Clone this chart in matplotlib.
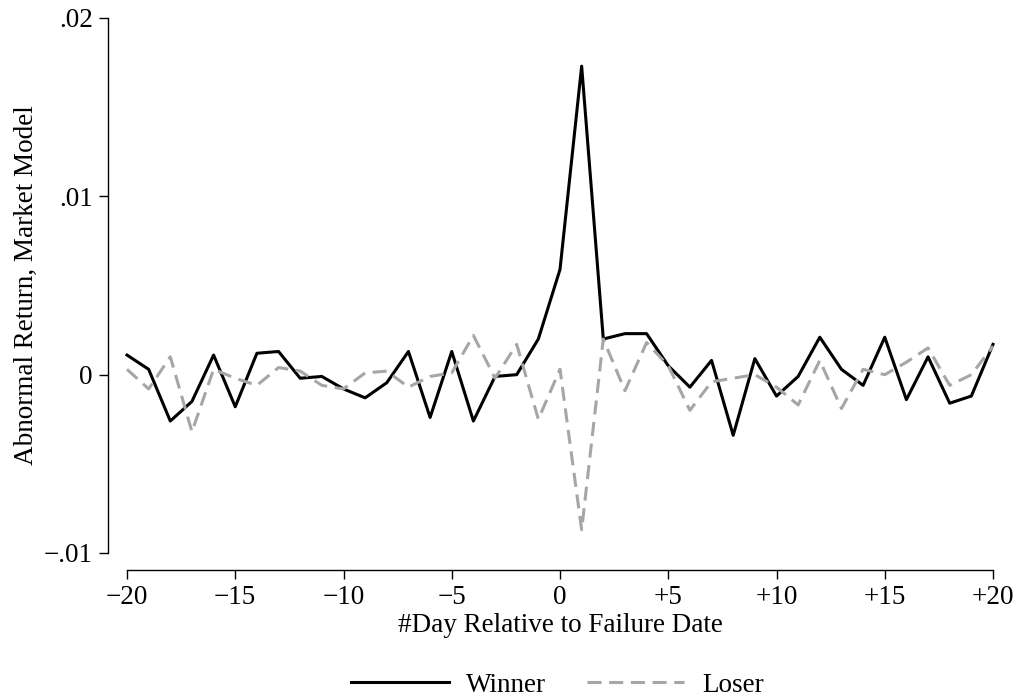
import matplotlib.pyplot as plt

# event days and average abnormal returns
days = list(range(-20, 21))

winner = [
    0.0011, 0.0003, -0.0026, -0.0015, 0.0011, -0.0018, 0.0012, 0.0013,
    -0.0002, -0.0001, -0.0008, -0.0013, -0.00045, 0.0013, -0.0024, 0.0013,
    -0.0026, -0.0001, 0.0000, 0.0020, 0.0059, 0.0173, 0.0020, 0.0023,
    0.0023, 0.0005, -0.0007, 0.0008, -0.0034, 0.0009, -0.0012, -0.0001,
    0.0021, 0.0003, -0.0006, 0.0021, -0.0014, 0.0010, -0.0016, -0.0012,
    0.0017,
]

loser = [
    0.0003, -0.0008, 0.0010, -0.0032, 0.0003, -0.0002, -0.0006, 0.0004,
    0.0002, -0.0006, -0.0008, 0.0001, 0.0002, -0.0007, -0.0001, 0.0001,
    0.0022, -0.0002, 0.0017, -0.0025, 0.0003, -0.0087, 0.0020, -0.0009,
    0.0018, 0.0005, -0.0020, -0.0004, -0.0002, 0.0000, -0.0007, -0.0017,
    0.0008, -0.0019, 0.0003, 0.0000, 0.0007, 0.0015, -0.0006, 0.0000,
    0.0016,
]

x_ticks = [-20, -15, -10, -5, 0, 5, 10, 15, 20]
x_labels = ["\u221220", "\u221215", "\u221210", "\u22125", "0", "+5", "+10", "+15", "+20"]
y_ticks = [-0.01, 0, 0.01, 0.02]
y_labels = ["\u2212.01", "0", ".01", ".02"]

plt.rcParams["font.family"] = ["Liberation Serif", "DejaVu Serif"]
fs = 19.5

W, H = 1019, 698
fig = plt.figure(figsize=(W / 100, H / 100), dpi=100)
ax = fig.add_axes([127 / W, 1 - 553 / H, (993 - 127) / W, (553 - 18) / H])

ax.plot(days, winner, color="black", lw=2.2, clip_on=False, label="Winner")
ax.plot(days, loser, color="#a6a6a6", lw=2.2, dashes=(4.6, 2.5),
        clip_on=False, label="Loser")

ax.set_xlim(-20, 20)
ax.set_ylim(-0.01, 0.02)

for s in ["top", "right"]:
    ax.spines[s].set_visible(False)
ax.spines["left"].set_position(("outward", 14))
ax.spines["bottom"].set_position(("outward", 12.5))
ax.spines["left"].set_bounds(-0.01, 0.02)
ax.spines["bottom"].set_bounds(-20, 20)
for s in ["left", "bottom"]:
    ax.spines[s].set_linewidth(1.0)

ax.set_xticks(x_ticks)
ax.set_xticklabels(x_labels)
ax.set_yticks(y_ticks)
ax.set_yticklabels(y_labels)
ax.tick_params(direction="out", length=6.5, width=1.0, labelsize=fs, pad=4)

ax.set_xlabel("#Day Relative to Failure Date", fontsize=fs, labelpad=2)
ax.set_ylabel("Abnormal Return, Market Model", fontsize=fs, labelpad=4)

fig.legend(loc="lower center", bbox_to_anchor=(0.547, -0.019), ncol=2,
           frameon=False, fontsize=fs, handlelength=3.6,
           columnspacing=1.5, handletextpad=0.65, borderpad=0)

fig.savefig("out.png", dpi=100)
